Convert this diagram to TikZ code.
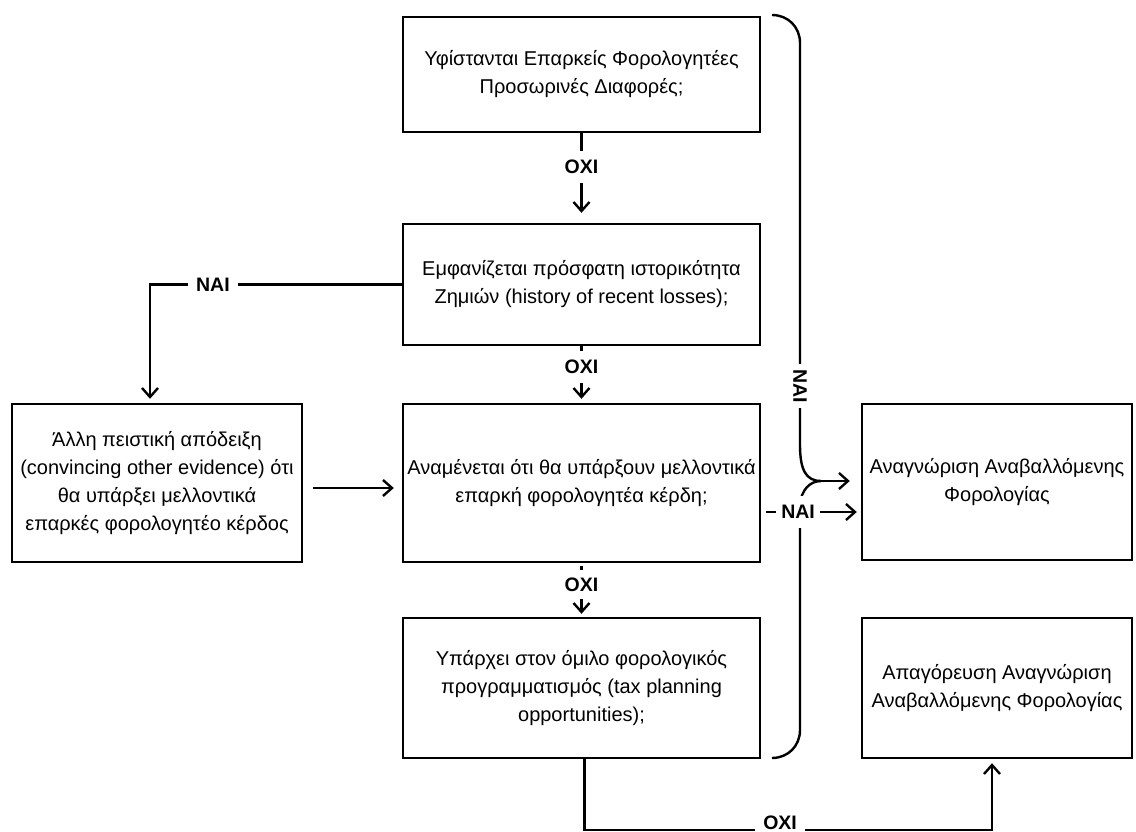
\documentclass[tikz,border=0pt]{standalone}
\usepackage{fontspec}
\setmainfont{Liberation Sans}
\usetikzlibrary{arrows.meta}
\begin{document}
\begin{tikzpicture}[x=1pt,y=-1pt,
  line width=2.4pt,
  box/.style={draw, rectangle, align=center, inner sep=0pt,
    font=\fontsize{20}{28}\selectfont},
  lbl/.style={fill=white, font=\bfseries\fontsize{19.5}{20}\selectfont,
    inner xsep=8pt, inner ysep=9pt},
  arr/.style={-{Straight Barb[length=9pt,width=16pt,line width=2.4pt]}}
]
\clip (0,0) rectangle (1136,832);
\fill[white] (0,0) rectangle (1136,832);

% decision boxes
\node[box, minimum width=357pt, minimum height=115pt] (b1) at (581.5,74.5)
  {Υφίστανται Επαρκείς Φορολογητέες\\Προσωρινές Διαφορές;};
\node[box, minimum width=357pt, minimum height=121pt] (b2) at (581.5,284.5)
  {Εμφανίζεται πρόσφατη ιστορικότητα\\Ζημιών (history of recent losses);};
\node[box, minimum width=357pt, minimum height=158pt] (b3) at (581.5,483)
  {Αναμένεται ότι θα υπάρξουν μελλοντικά\\επαρκή φορολογητέα κέρδη;};
\node[box, minimum width=357pt, minimum height=140pt] (b4) at (581.5,688)
  {Υπάρχει στον όμιλο φορολογικός\\προγραμματισμός (tax planning\\opportunities);};
\node[box, minimum width=290pt, minimum height=158pt] (ev) at (157,483)
  {Άλλη πειστική απόδειξη\\(convincing other evidence) ότι\\θα υπάρξει μελλοντικά\\επαρκές φορολογητέο κέρδος};
% outcome boxes
\node[box, minimum width=270pt, minimum height=156pt] (yes) at (997,482)
  {Αναγνώριση Αναβαλλόμενης\\Φορολογίας};
\node[box, minimum width=270pt, minimum height=140pt] (no) at (997,688)
  {Απαγόρευση Αναγνώριση\\Αναβαλλόμενης Φορολογίας};

% anchor points for the connectors (yshift is measured upwards)
\coordinate (evin) at ([xshift=-7pt]ev.north);
\coordinate (noin) at ([xshift=-5pt]no.south);
\coordinate (b3out) at ([yshift=-29pt]b3.east);
\coordinate (evout) at ([yshift=-5pt]ev.east);
\coordinate (b3in) at ([yshift=-5pt]b3.west);

% brace collecting the first, second and fourth boxes
\coordinate (tip) at (821,481);
\draw (772,15) .. controls (788,15) and (800,27) .. (800,43) -- (800,445)
  .. controls (800,470) and (806,481) .. (tip);
\draw (tip) .. controls (810,481) and (801,490) .. (800,505) -- (800,730)
  .. controls (800,746) and (788,758) .. (772,758);
\node[lbl, rotate=-90, inner xsep=5pt, inner ysep=4pt] at (800,386) {ΝΑΙ};
\draw[arr, shorten >=11pt] (tip) -- (yes.west |- tip);

% vertical chain
\draw[arr, shorten >=10pt] (b1.south) -- node[lbl, pos=0.38]{ΟΧΙ} (b2.north);
\draw[arr, shorten >=4pt] (b2.south) -- node[lbl, pos=0.37]{ΟΧΙ} (b3.north);
\draw[arr, shorten >=3pt] ([yshift=-3pt]b3.south) -- node[lbl, pos=0.36, inner ysep=8pt]{ΟΧΙ} (b4.north);

% side branches
\draw[arr, shorten >=4pt] (b2.west) -- node[lbl, pos=0.75]{ΝΑΙ}
  (b2.west -| evin) -- (evin);
\draw[arr, shorten <=10pt, shorten >=8pt] (evout) -- (b3in);
\draw[arr, shorten <=5pt, shorten >=4pt] (b3out) --
  node[lbl, pos=0.37, inner xsep=5pt]{ΝΑΙ} (yes.west |- b3out);
\draw[arr, shorten >=4pt] ([xshift=3pt]b4.south) -- ++(0,71) coordinate (bl)
  -- node[lbl, pos=0.48, yshift=7pt, inner ysep=2pt]{ΟΧΙ} (bl -| noin) -- (noin);
\end{tikzpicture}
\end{document}
